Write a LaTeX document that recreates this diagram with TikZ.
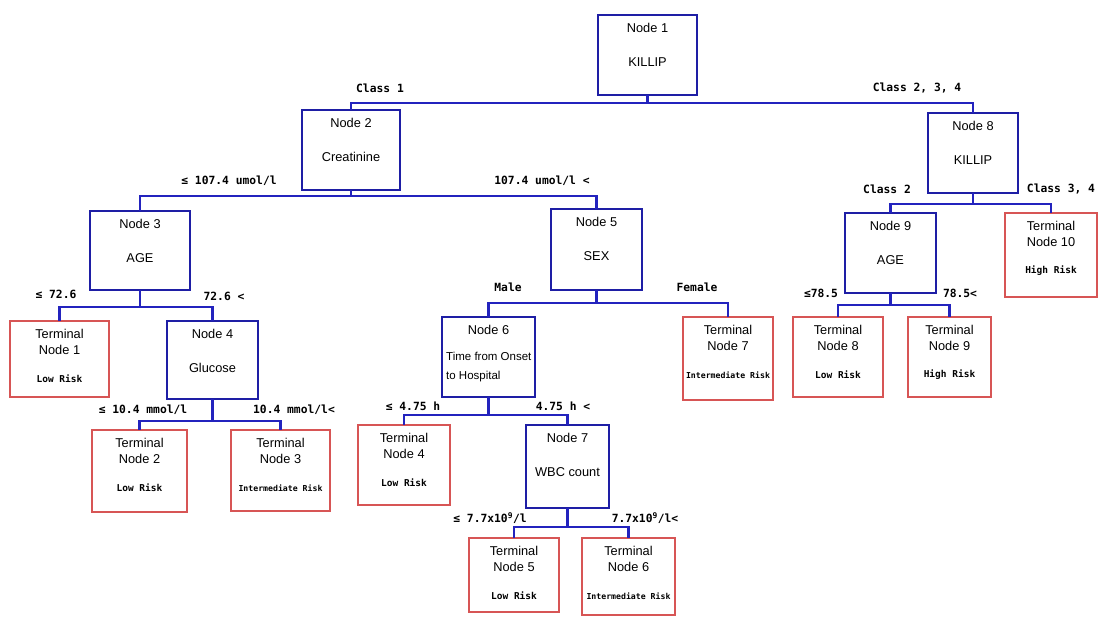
\documentclass[tikz,border=0pt]{standalone}
\usepackage{fontspec}
\setmainfont{Liberation Sans}
\newfontfamily\labfont{DejaVu Sans Mono}
\usetikzlibrary{calc}
\definecolor{nblue}{RGB}{30,30,165}
\definecolor{cblue}{RGB}{35,35,190}
\definecolor{tred}{RGB}{215,85,85}
\tikzset{
 ibox/.style={draw=nblue, line width=2.9pt, inner sep=0pt, outer sep=0pt},
 tbox/.style={draw=tred, line width=1.5pt, inner sep=0pt, outer sep=0pt},
 ntext/.style={inner sep=0pt, font=\fontsize{12.8}{14}\selectfont},
 risk/.style={inner sep=0pt, font=\labfont\bfseries\fontsize{9.5}{11}\selectfont},
 irisk/.style={inner sep=0pt, font=\labfont\bfseries\fontsize{8.2}{10}\selectfont},
 lab/.style={inner sep=0pt, font=\labfont\bfseries\fontsize{11.3}{13}\selectfont},
 conn/.style={draw=cblue, line width=2.6pt},
}
% internal box: name, x1, y1, x2, y2, line1, line2
\newcommand{\ibx}[7]{%
 \node[ibox, minimum width={#4-#2}, minimum height={#5-#3}] (#1) at ({(#2+#4)/2},{(#3+#5)/2}) {};
 \node[ntext] (#1a) at ($(#1.north)+(0,13)$) {#6};
 \node[ntext] (#1b) at ($(#1.north)+(0,47)$) {#7};}
% terminal box: name, x1, y1, x2, y2, number, risk, risk style
\newcommand{\tbx}[8]{%
 \node[tbox, minimum width={#4-#2}, minimum height={#5-#3}] (#1) at ({(#2+#4)/2},{(#3+#5)/2}) {};
 \node[ntext] (#1a) at ($(#1.north)+(0,13)$) {Terminal};
 \node[ntext] (#1b) at ($(#1.north)+(0,29)$) {Node #6};
 \node[#8] (#1c) at ($(#1.north)+(0,58)$) {#7};}
\begin{document}
\begin{tikzpicture}[x=1pt,y=-1pt]
\useasboundingbox[fill=white] (0,0) rectangle (1100,619);
% internal nodes
\ibx{n1}{598}{15}{697}{95}{Node 1}{KILLIP}
\ibx{n2}{302}{110}{400}{190}{Node 2}{Creatinine}
\ibx{n3}{90}{211}{190}{290}{Node 3}{AGE}
\ibx{n4}{167}{321}{258}{399}{Node 4}{Glucose}
\ibx{n5}{551}{209}{642}{290}{Node 5}{SEX}
\ibx{n6}{442}{317}{535}{397}{Node 6}{}
\node[ntext, anchor=west, align=left, font=\fontsize{11.5}{19}\selectfont] (n6c) at (446,367) {Time from Onset\\to Hospital};
\ibx{n7}{526}{425}{609}{508}{Node 7}{WBC count}
\ibx{n8}{928}{113}{1018}{193}{Node 8}{KILLIP}
\ibx{n9}{845}{213}{936}{293}{Node 9}{AGE}
% terminal nodes
\tbx{t1}{10}{321}{109}{397}{1}{Low Risk}{risk}
\tbx{t2}{92}{430}{187}{512}{2}{Low Risk}{risk}
\tbx{t3}{231}{430}{330}{511}{3}{Intermediate Risk}{irisk}
\tbx{t4}{358}{425}{450}{505}{4}{Low Risk}{risk}
\tbx{t5}{469}{538}{559}{612}{5}{Low Risk}{risk}
\tbx{t6}{582}{538}{675}{615}{6}{Intermediate Risk}{irisk}
\tbx{t7}{683}{317}{773}{400}{7}{Intermediate Risk}{irisk}
\tbx{t8}{793}{317}{883}{397}{8}{Low Risk}{risk}
\tbx{t9}{908}{317}{991}{397}{9}{High Risk}{risk}
\tbx{t10}{1005}{213}{1097}{297}{10}{High Risk}{risk}
% connectors
\draw[conn] (n1.south) -- ++(0,8) coordinate (b1);
\draw[conn] (b1) -| (n2.north);
\draw[conn] (b1) -| (n8.north);
\draw[conn] (n2.south) -- ++(0,6) coordinate (b2);
\draw[conn] (b2) -| (n3.north);
\draw[conn] (b2) -| (n5.north);
\draw[conn] (n3.south) -- ++(0,17) coordinate (b3);
\draw[conn] (b3) -| (t1.north);
\draw[conn] (b3) -| (n4.north);
\draw[conn] (n4.south) -- ++(0,22) coordinate (b4);
\draw[conn] (b4) -| (t2.north);
\draw[conn] (b4) -| (t3.north);
\draw[conn] (n5.south) -- ++(0,13) coordinate (b5);
\draw[conn] (b5) -| (n6.north);
\draw[conn] (b5) -| (t7.north);
\draw[conn] (n6.south) -- ++(0,18) coordinate (b6);
\draw[conn] (b6) -| (t4.north);
\draw[conn] (b6) -| (n7.north);
\draw[conn] (n7.south) -- ++(0,19) coordinate (b7);
\draw[conn] (b7) -| (t5.north);
\draw[conn] (b7) -| (t6.north);
\draw[conn] (n8.south) -- ++(0,11) coordinate (b8);
\draw[conn] (b8) -| (n9.north);
\draw[conn] (b8) -| (t10.north);
\draw[conn] (n9.south) -- ++(0,12) coordinate (b9);
\draw[conn] (b9) -| (t8.north);
\draw[conn] (b9) -| (t9.north);
% branch labels
\node[lab] (l1) at (380,88) {Class 1};
\node[lab] (l2) at (917,88) {Class 2, 3, 4};
\node[lab] (l3) at (229,181) {≤ 107.4 umol/l};
\node[lab] (l4) at (542,181) {107.4 umol/l <};
\node[lab] (l5) at (887,189) {Class 2};
\node[lab] (l6) at (1061,189) {Class 3, 4};
\node[lab] (l7) at (56,294) {≤ 72.6};
\node[lab] (l8) at (224,296) {72.6 <};
\node[lab] (l9) at (508,287) {Male};
\node[lab] (l10) at (697,287) {Female};
\node[lab] (l11) at (821,293) {≤78.5};
\node[lab] (l12) at (960,293) {78.5<};
\node[lab] (l13) at (143,410) {≤ 10.4 mmol/l};
\node[lab] (l14) at (294,410) {10.4 mmol/l<};
\node[lab] (l15) at (413,406) {≤ 4.75 h};
\node[lab] (l16) at (563,406) {4.75 h <};
\node[lab] (l17) at (490,518) {≤ 7.7x10\textsuperscript{9}/l};
\node[lab] (l18) at (645,518) {7.7x10\textsuperscript{9}/l<};
\end{tikzpicture}
\end{document}
